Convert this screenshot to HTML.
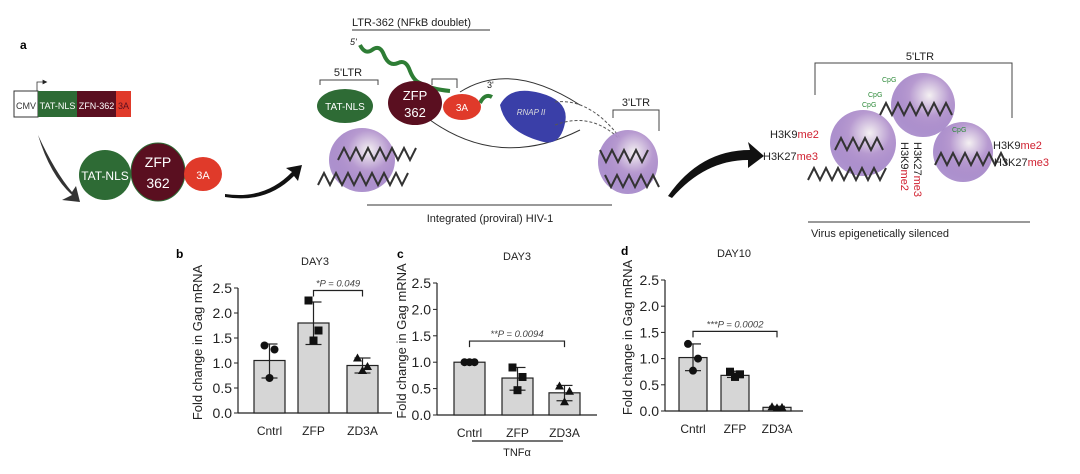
<!DOCTYPE html>
<html><head><meta charset="utf-8"><style>
html,body{margin:0;padding:0;background:#fff;}
svg{display:block;font-family:"Liberation Sans",sans-serif;}
</style></head><body>
<svg id="fig" width="1080" height="474" viewBox="0 0 1080 474">
<defs>
<radialGradient id="nuc" cx="0.6" cy="0.35" r="0.7">
<stop offset="0" stop-color="#f4f0f2"/><stop offset="0.45" stop-color="#b79ad0"/><stop offset="1" stop-color="#7a4fb0" stop-opacity="0.6"/>
</radialGradient>
<marker id="ah" markerWidth="6" markerHeight="6" refX="3" refY="3" orient="auto"><path d="M0,0 L6,3 L0,6 z" fill="#222"/></marker>
</defs>
<text x="20" y="49" font-size="12" font-weight="bold">a</text>
<g>
<rect x="14" y="91" width="24" height="26" fill="#fff" stroke="#333"/>
<text x="26" y="109" font-size="9" text-anchor="middle" fill="#333">CMV</text>
<rect x="38" y="91" width="39" height="26" fill="#2e6b35"/>
<text x="57.5" y="109" font-size="9" text-anchor="middle" fill="#fff">TAT-NLS</text>
<rect x="77" y="91" width="39" height="26" fill="#5a0f20"/>
<text x="96.5" y="109" font-size="9" text-anchor="middle" fill="#fff">ZFN-362</text>
<rect x="116" y="91" width="15" height="26" fill="#e03a2a"/>
<text x="123.5" y="109" font-size="9" text-anchor="middle" fill="#5a0f20">3A</text>
<path d="M37,91 V82 H45" stroke="#333" fill="none" stroke-width="0.8" marker-end="url(#ah)"/>
</g>
<path d="M38,135 Q50,175 72,195 L62,200 L80,202 L76,186 L72,192 Q55,172 38,135z" fill="#333"/>
<g>
<ellipse cx="105" cy="175" rx="26" ry="25" fill="#2e6b35"/>
<text x="105" y="180" font-size="12" text-anchor="middle" fill="#fff">TAT-NLS</text>
<ellipse cx="158" cy="172" rx="27" ry="29" fill="#5a0f20" stroke="#2e6b35"/>
<text x="158" y="167" font-size="14" text-anchor="middle" fill="#fff">ZFP</text>
<text x="158" y="188" font-size="14" text-anchor="middle" fill="#fff">362</text>
<ellipse cx="203" cy="174" rx="19" ry="17" fill="#e03a2a"/>
<text x="203" y="179" font-size="11" text-anchor="middle" fill="#fff">3A</text>
</g>
<path d="M225,194 Q265,200 292,172 L286,168 L302,165 L298,181 L294,176 Q266,204 225,197z" fill="#111"/>
<g>
<text x="352" y="26" font-size="11" fill="#222">LTR-362 (NFkB doublet)</text>
<line x1="352" y1="30" x2="490" y2="30" stroke="#333"/>
<text x="350" y="45" font-size="9" font-style="italic" fill="#222">5'</text>
<path d="M360,45 q5,10 12,5 q8,-6 12,5 q5,12 14,8 q8,-4 12,8 q4,10 10,12 q10,6 30,8" stroke="#2e7d35" stroke-width="4" fill="none"/>
<path d="M320,85 V80 H378 V85" stroke="#444" fill="none"/>
<text x="348" y="76" font-size="11" text-anchor="middle" fill="#222">5'LTR</text>
<path d="M432,85 V79 H457 V88" stroke="#444" fill="none"/>
<path d="M460,92 Q510,60 580,105" stroke="#333" fill="none"/>
<path d="M430,120 Q500,170 580,130" stroke="#333" fill="none"/>
<path d="M480,103 q5,-10 12,-6" stroke="#2e7d35" stroke-width="4" fill="none"/>
<text x="487" y="88" font-size="9" fill="#222">3'</text>
<path d="M500,105 q10,-20 40,-12 q30,8 25,30 q-5,25 -25,18 q-35,-10 -40,-36z" fill="#3a3fa8"/>
<text x="531" y="115" font-size="8" font-style="italic" fill="#ddd" text-anchor="middle">RNAP II</text>
<path d="M555,102 q40,-5 75,50" stroke="#555" stroke-dasharray="3,2" fill="none"/>
<path d="M555,125 q40,-15 70,20" stroke="#555" stroke-dasharray="3,2" fill="none"/>
<ellipse cx="362" cy="160" rx="33" ry="32" fill="url(#nuc)"/>
<ellipse cx="628" cy="162" rx="30" ry="32" fill="url(#nuc)"/>
<path d="M318,185 l6,-12 l6,12 l6,-12 l6,12 l6,-12 l6,12 l6,-12 l6,12 l6,-12 l6,12 l6,-12 l6,12 l6,-12 l6,12 l6,-12" stroke="#333" stroke-width="2" fill="none"/>
<path d="M338,160 l6,-12 l6,12 l6,-12 l6,12 l6,-12 l6,12 l6,-12 l6,12 l6,-12 l6,12 l6,-12 l6,12 l6,-12" stroke="#333" stroke-width="2" fill="none"/>
<path d="M600,150 l6,12 l6,-12 l6,12 l6,-12 l6,12 l6,-12 l6,12 l6,-12" stroke="#333" stroke-width="2" fill="none"/>
<path d="M605,175 l6,12 l6,-12 l6,12 l6,-12 l6,12 l6,-12 l6,12 l6,-12 l6,12" stroke="#333" stroke-width="2" fill="none"/>
<ellipse cx="345" cy="106" rx="28" ry="17" fill="#2e6b35"/>
<text x="345" y="110" font-size="10" text-anchor="middle" fill="#fff">TAT-NLS</text>
<ellipse cx="415" cy="103" rx="27" ry="22" fill="#5a0f20"/>
<text x="415" y="100" font-size="13" text-anchor="middle" fill="#fff">ZFP</text>
<text x="415" y="117" font-size="13" text-anchor="middle" fill="#fff">362</text>
<ellipse cx="462" cy="107" rx="19" ry="13" fill="#e03a2a"/>
<text x="462" y="111" font-size="10" text-anchor="middle" fill="#fff">3A</text>
<path d="M613,118 V110 H659 V131" stroke="#444" fill="none"/>
<text x="636" y="106" font-size="11" text-anchor="middle" fill="#222">3'LTR</text>
<line x1="367" y1="205" x2="612" y2="205" stroke="#333"/>
<text x="490" y="222" font-size="11" text-anchor="middle" fill="#222">Integrated (proviral) HIV-1</text>
</g>
<path d="M668,196 Q700,150 750,150 L748,142 L764,156 L748,168 L748,160 Q705,160 672,198z" fill="#111"/>
<g>
<path d="M815,95 V63 H1012 V118" stroke="#444" fill="none"/>
<text x="920" y="60" font-size="11" text-anchor="middle" fill="#222">5'LTR</text>
<circle cx="863" cy="143" r="33" fill="url(#nuc)"/>
<circle cx="923" cy="105" r="32" fill="url(#nuc)"/>
<circle cx="963" cy="152" r="30" fill="url(#nuc)"/>
<path d="M808,180 l6,-12 l6,12 l6,-12 l6,12 l6,-12 l6,12 l6,-12 l6,12 l6,-12 l6,12 l6,-12 l6,12 l6,-12" stroke="#333" stroke-width="2" fill="none"/>
<path d="M835,150 l6,-12 l6,12 l6,-12 l6,12 l6,-12 l6,12 l6,-12 l6,12" stroke="#333" stroke-width="2" fill="none"/>
<path d="M880,115 l6,-12 l6,12 l6,-12 l6,12 l6,-12 l6,12 l6,-12 l6,12 l6,-12 l6,12 l6,-12 l6,12" stroke="#333" stroke-width="2" fill="none"/>
<path d="M935,165 l6,-12 l6,12 l6,-12 l6,12 l6,-12 l6,12 l6,-12 l6,12 l6,-12 l6,12 l6,-12 l6,12" stroke="#333" stroke-width="2" fill="none"/>
<g font-size="7" fill="#2e8b3a"><text x="882" y="82">CpG</text><text x="868" y="97">CpG</text><text x="862" y="107">CpG</text><text x="952" y="132">CpG</text></g>
<g font-size="11"><text x="770" y="138" fill="#222">H3K9<tspan fill="#d02030">me2</tspan></text>
<text x="763" y="160" fill="#222">H3K27<tspan fill="#d02030">me3</tspan></text>
<text x="993" y="149" fill="#222">H3K9<tspan fill="#d02030">me2</tspan></text>
<text x="994" y="166" fill="#222">H3K27<tspan fill="#d02030">me3</tspan></text>
<text transform="translate(901,142) rotate(90)" fill="#222">H3K9<tspan fill="#d02030">me2</tspan></text>
<text transform="translate(914,142) rotate(90)" fill="#222">H3K27<tspan fill="#d02030">me3</tspan></text></g>
<line x1="808" y1="222" x2="1030" y2="222" stroke="#333"/>
<text x="880" y="237" font-size="11" text-anchor="middle" fill="#222">Virus epigenetically silenced</text>
</g>
<g id="charts"></g>
</svg>
<script>
const categories = ["Cntrl","ZFP","ZD3A"];
const ticks = [0,0.5,1.0,1.5,2.0,2.5];
const tickLabels = ["0.0","0.5","1.0","1.5","2.0","2.5"];
const bMeans = [1.05,1.8,0.95];
const bErr = [[0.7,1.38],[1.37,2.22],[0.8,1.1]];
const bPoints = [[1.35,1.27,0.7],[2.25,1.65,1.45],[1.1,0.93,0.85]];
const cMeans = [1.0,0.7,0.42];
const cErr = [[1.0,1.0],[0.47,0.9],[0.27,0.56]];
const cPoints = [[1.0,1.0,1.0],[0.9,0.72,0.47],[0.55,0.45,0.25]];
const dMeans = [1.02,0.68,0.07];
const dErr = [[0.77,1.28],[0.64,0.76],[0.05,0.09]];
const dPoints = [[1.28,1.0,0.77],[0.75,0.7,0.65],[0.08,0.07,0.06]];
const titles = ["DAY3","DAY3","DAY10"];
const pTexts = ["*P = 0.049","**P = 0.0094","***P = 0.0002"];
const panels = [
 {lab:"b",lx:176,ly:258,tx:197,ax:238,y0:413,y25:288,x1:392,bars:[254,298,347],bw:31,m:bMeans,e:bErr,p:bPoints,br:[1,2],by:2.45,t:0},
 {lab:"c",lx:397,ly:258,tx:401,ax:437,y0:415,y25:283,x1:597,bars:[454,502,549],bw:31,m:cMeans,e:cErr,p:cPoints,br:[0,2],by:1.4,t:1},
 {lab:"d",lx:621,ly:255,tx:627,ax:665,y0:411,y25:280,x1:803,bars:[679,721,763],bw:28,m:dMeans,e:dErr,p:dPoints,br:[0,2],by:1.52,t:2}
];
const NS="http://www.w3.org/2000/svg";
const root=document.getElementById('charts');
function mk(tag,attrs,parent,text){const e=document.createElementNS(NS,tag);for(const k in attrs)e.setAttribute(k,attrs[k]);if(text!==undefined)e.textContent=text;(parent||root).appendChild(e);return e;}
const markers=["circle","square","tri"];
panels.forEach((P,pi)=>{
 const g=mk('g',{});
 
 
 const y=v=>P.y0-(P.y0-P.y25)*v/2.5;
 const l=mk('text',{x:P.lx,y:P.ly,'font-size':12,'font-weight':'bold'},g,P.lab);
 
 
 const t=mk('text',{x:(P.ax+P.x1)/2,y:P.y25-23,'font-size':11,'text-anchor':'middle',fill:'#222'},g,titles[P.t]);
 
 
 const at=mk('text',{transform:`translate(${P.tx+5},${(P.y0+P.y25)/2-8}) rotate(-90)`,'font-size':13,'text-anchor':'middle',fill:'#222'},g,'Fold change in Gag mRNA');
 
 
 mk('line',{x1:P.ax,y1:y(2.5),x2:P.ax,y2:P.y0,stroke:'#222','stroke-width':1.2},g);
 mk('line',{x1:P.ax,y1:P.y0,x2:P.x1,y2:P.y0,stroke:'#222','stroke-width':1.2},g);
 ticks.forEach((v,i)=>{
  mk('line',{x1:P.ax-4,y1:y(v),x2:P.ax,y2:y(v),stroke:'#222'},g);
  const tl=mk('text',{x:P.ax-6,y:y(v)+5,'font-size':14,'text-anchor':'end',fill:'#222'},g,tickLabels[i]);
  
  
 });
 categories.forEach((c,i)=>{
  const bx=P.bars[i],cx=bx+P.bw/2;
  const r=mk('rect',{x:bx,y:y(P.m[i]),width:P.bw,height:P.y0-y(P.m[i]),fill:'#d6d6d6',stroke:'#222','stroke-width':1.2},g);
  
  
  const [lo,hi]=P.e[i];
  mk('line',{x1:cx,y1:y(lo),x2:cx,y2:y(hi),stroke:'#222','stroke-width':1.2},g);
  mk('line',{x1:cx-8,y1:y(lo),x2:cx+8,y2:y(lo),stroke:'#222','stroke-width':1.2},g);
  mk('line',{x1:cx-8,y1:y(hi),x2:cx+8,y2:y(hi),stroke:'#222','stroke-width':1.2},g);
  const shape=markers[i];
  P.p[i].forEach((v,j)=>{
   const px=cx+[-1,1,0][j]*5, py=y(v);
   let m;
   if(shape==='circle')m=mk('circle',{cx:px,cy:py,r:4,fill:'#111'},g);
   else if(shape==='square')m=mk('rect',{x:px-4,y:py-4,width:8,height:8,fill:'#111'},g);
   else m=mk('path',{d:`M${px},${py-4.5} L${px+4.5},${py+3.5} L${px-4.5},${py+3.5}z`,fill:'#111'},g);
   
   
  });
  const xl=mk('text',{x:cx,y:P.y0+22,'font-size':12,'text-anchor':'middle',fill:'#222'},g,c);
  
  
 });
 const a=P.bars[P.br[0]]+P.bw/2,b=P.bars[P.br[1]]+P.bw/2,yb=y(P.by);
 mk('path',{d:`M${a},${yb+6} V${yb} H${b} V${yb+6}`,stroke:'#222',fill:'none','stroke-width':1.2},g);
 const pt=mk('text',{x:(a+b)/2,y:yb-4,'font-size':9.5,'font-style':'italic','text-anchor':'middle',fill:'#444'},g,pTexts[pi]);
 
 
 if(P.lab==='c'){
  mk('line',{x1:472,y1:441,x2:563,y2:441,stroke:'#222','stroke-width':1.2},g);
  const tn=mk('text',{x:517,y:456,'font-size':11,'text-anchor':'middle',fill:'#222'},g,'TNFα');
  
  
 }
});
</script>
</body></html>
